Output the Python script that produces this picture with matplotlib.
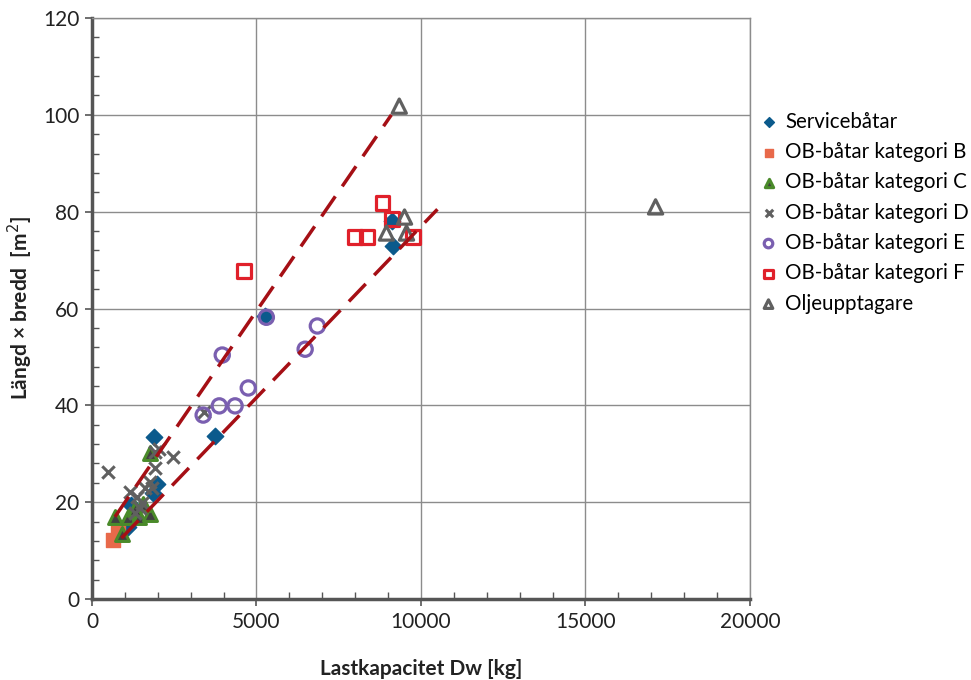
import numpy as np
import matplotlib.pyplot as plt
from matplotlib.ticker import MultipleLocator

# data
service_x = [1890, 3740, 5260, 9130, 9160, 1980, 1860, 1100, 1190]
service_y = [33.5, 33.6, 58.4, 78.1, 72.9, 23.8, 21.9, 14.9, 19.4]

kat_b_x = [640, 790]
kat_b_y = [12.2, 13.8]

kat_c_x = [700, 1100, 1430, 1770, 910, 1770, 1550, 1300]
kat_c_y = [16.9, 16.9, 16.9, 17.6, 13.4, 30.2, 19.6, 18.5]

kat_d_x = [490, 1920, 2470, 2050, 1920, 1770, 1160, 1370, 1610, 1830, 1460, 1310, 1520, 3410]
kat_d_y = [26.2, 30.4, 29.3, 31.0, 27.0, 24.2, 22.1, 21.0, 23.0, 23.0, 18.8, 17.8, 19.8, 38.6]

kat_e_x = [3380, 3870, 4350, 4750, 3960, 5300, 6480, 6850]
kat_e_y = [38.0, 39.9, 39.9, 43.6, 50.4, 58.2, 51.6, 56.4]

kat_f_x = [4630, 8830, 9130, 8000, 8370, 9770]
kat_f_y = [67.7, 81.8, 78.5, 74.8, 74.8, 74.8]

olje_x = [9340, 9500, 8950, 9560, 17130]
olje_y = [101.8, 78.9, 75.6, 75.6, 81.0]

# envelope lines
upper_x = [700, 9100]
upper_y = [17.0, 100.0]
lower_x = [900, 10500]
lower_y = [12.6, 80.5]

plt.rcParams['font.family'] = ['Lato', 'DejaVu Sans']

fig = plt.figure(figsize=(9.71, 6.8), dpi=100)
ax = fig.add_axes([0.0947, 0.119, 0.6777, 0.8545])

ax.plot(upper_x, upper_y, color='#A50F15', lw=2.5, dashes=(7, 3.5), zorder=4)
ax.plot(lower_x, lower_y, color='#A50F15', lw=2.5, dashes=(7, 3.5), zorder=4)

ax.scatter(service_x, service_y, marker='D', s=70, color='#0B5A8C', label='Servicebåtar', zorder=3)
ax.scatter(kat_b_x, kat_b_y, marker='s', s=110, color='#E8694A', label='OB-båtar kategori B', zorder=3)
ax.scatter(kat_c_x, kat_c_y, marker='^', s=100, facecolor='#404040', edgecolor='#4A8A2A',
           linewidth=2.2, label='OB-båtar kategori C', zorder=3)
ax.scatter(kat_d_x, kat_d_y, marker='x', s=80, color='#606060', linewidth=2.2,
           label='OB-båtar kategori D', zorder=3)
ax.scatter(kat_e_x, kat_e_y, marker='o', s=105, facecolor='none', edgecolor='#7A5FB0',
           linewidth=2.3, label='OB-båtar kategori E', zorder=3)
ax.scatter(kat_f_x, kat_f_y, marker='s', s=100, facecolor='none', edgecolor='#E0202A',
           linewidth=2.3, label='OB-båtar kategori F', zorder=3)
ax.scatter(olje_x, olje_y, marker='^', s=105, facecolor='none', edgecolor='#606060',
           linewidth=2.3, label='Oljeupptagare', zorder=3)

ax.set_xlim(0, 20000)
ax.set_ylim(0, 120)
ax.xaxis.set_major_locator(MultipleLocator(5000))
ax.xaxis.set_minor_locator(MultipleLocator(1000))
ax.yaxis.set_major_locator(MultipleLocator(20))
ax.yaxis.set_minor_locator(MultipleLocator(4))
ax.grid(True, which='major', color='#8C8C8C', lw=1)
ax.set_axisbelow(True)

ax.tick_params(which='major', direction='out', length=5, width=1.2, color='#555555',
               labelsize=15, labelcolor='#222222', pad=4)
ax.tick_params(which='minor', direction='in', length=5, width=1, color='#555555')

for s in ['left', 'bottom']:
    ax.spines[s].set_color('#555555')
    ax.spines[s].set_linewidth(2.5)
for s in ['top', 'right']:
    ax.spines[s].set_color('#8C8C8C')
    ax.spines[s].set_linewidth(1)

ax.set_xlabel('Lastkapacitet Dw [kg]', fontsize=15, fontweight='bold', color='#222222', labelpad=20)
ax.set_ylabel('Längd × bredd  [m$^2$]', fontsize=15, fontweight='bold', color='#222222', labelpad=6)

ax.legend(loc='center left', bbox_to_anchor=(1.0, 0.665), frameon=False, fontsize=14.8,
          markerscale=0.6, handletextpad=0.4, handlelength=0.8, labelspacing=0.5,
          borderaxespad=0.5, borderpad=0)

fig.savefig('out.png', dpi=100)
